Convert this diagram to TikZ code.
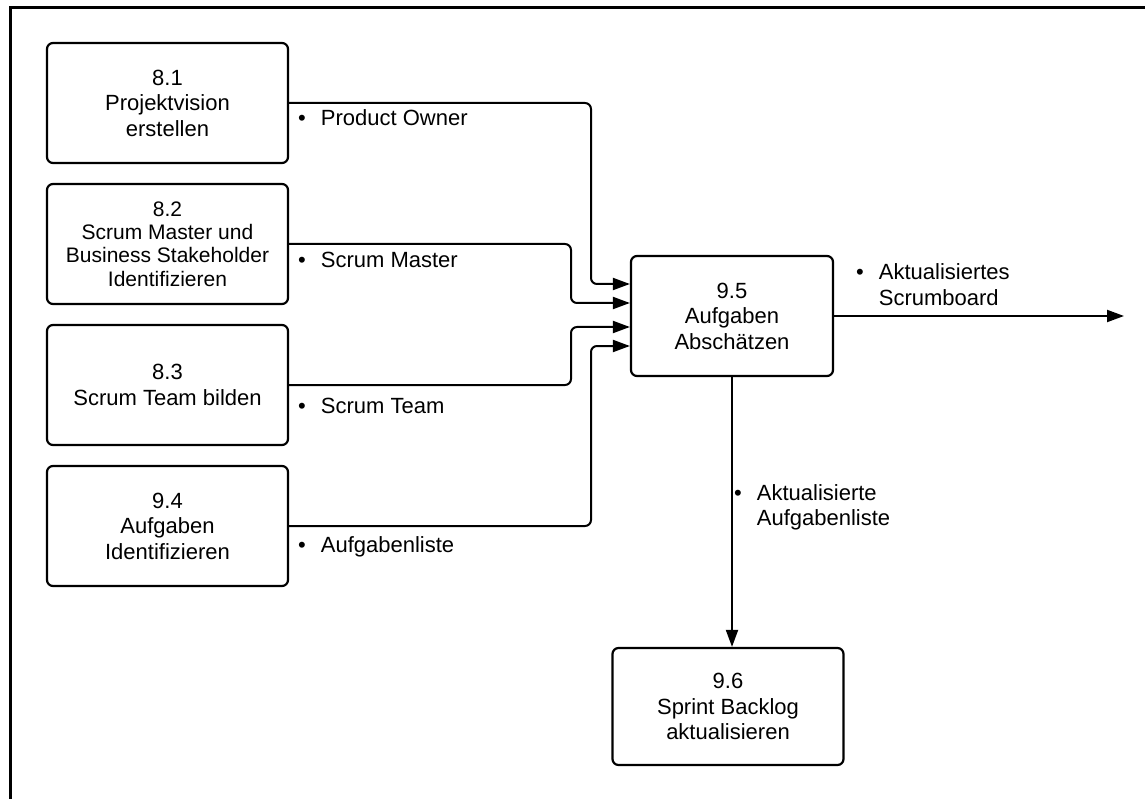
\documentclass[tikz,border=0pt]{standalone}
\usepackage{fontspec}
\setmainfont{Liberation Sans}
\usetikzlibrary{arrows.meta}
\begin{document}
\begin{tikzpicture}[x=1pt,y=-1pt,
  txt/.style={font=\fontsize{22}{25.5}\selectfont},
  box/.style={draw, line width=2.2pt, rounded corners=6pt, align=center, inner sep=0pt, txt},
  conn/.style={line width=2pt, rounded corners=6pt, -{Triangle[length=17pt,width=12pt]}},
  lbl/.style={anchor=base west, inner sep=0pt, txt}]
\useasboundingbox (0,0) rectangle (1145,799);
\draw[line width=3pt] (10.5,805) -- (10.5,7.5) -- (1150,7.5);

\node[box, minimum width=241pt, minimum height=120pt] (b81) at (167.5,103) {8.1\\Projektvision\\erstellen};
\node[box, minimum width=241pt, minimum height=120pt, font=\fontsize{21}{23.3}\selectfont] (b82) at (167.5,244) {8.2\\Scrum Master und\\Business Stakeholder\\Identifizieren};
\node[box, minimum width=241pt, minimum height=120pt] (b83) at (167.5,385) {8.3\\Scrum Team bilden};
\node[box, minimum width=241pt, minimum height=120pt] (b94) at (167.5,526) {9.4\\Aufgaben\\Identifizieren};
\node[box, minimum width=202pt, minimum height=120pt] (b95) at (732,316) {9.5\\Aufgaben\\Abschätzen};
\node[box, minimum width=231pt, minimum height=117pt] (b96) at (728,706.5) {9.6\\Sprint Backlog\\aktualisieren};

\coordinate (k1) at (591,284);
\coordinate (k2) at (571,303);
\coordinate (k3) at (571,327);
\coordinate (k4) at (591,346);
\draw[conn] (b81.east) -| (k1) -- (k1 -| b95.west);
\draw[conn] (b82.east) -| (k2) -- (k2 -| b95.west);
\draw[conn] (b83.east) -| (k3) -- (k3 -| b95.west);
\draw[conn] (b94.east) -| (k4) -- (k4 -| b95.west);

\coordinate (out) at (1124,316);
\draw[conn] (b95.east) -- (out);
\draw[conn] (b95.south) -- (b95.south |- b96.north);

\node[lbl] (l1) at (298,126) {\textbullet\hspace{15pt}Product Owner};
\node[lbl] (l2) at (298,268) {\textbullet\hspace{15pt}Scrum Master};
\node[lbl] (l3) at (298,413) {\textbullet\hspace{15pt}Scrum Team};
\node[lbl] (l4) at (298,552) {\textbullet\hspace{15pt}Aufgabenliste};
\node[lbl] (l5) at (856,280) {\begin{tabular}[t]{@{}l@{\hspace{15pt}}l@{}}\textbullet & Aktualisiertes\\ & Scrumboard\end{tabular}};
\node[lbl] (l6) at (734,500) {\begin{tabular}[t]{@{}l@{\hspace{15pt}}l@{}}\textbullet & Aktualisierte\\ & Aufgabenliste\end{tabular}};
\end{tikzpicture}
\end{document}
